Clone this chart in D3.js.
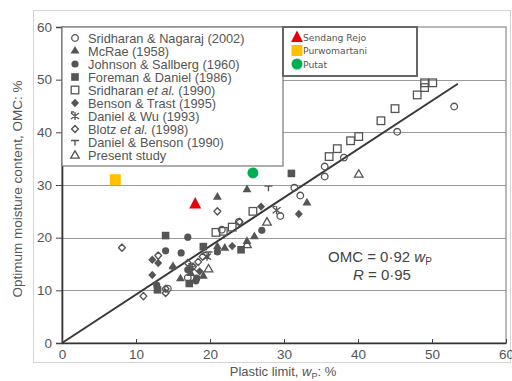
<!DOCTYPE html>
<html><head><meta charset="utf-8">
<script src="https://cdn.jsdelivr.net/npm/d3@7"></script>
<style>body{margin:0;background:#fff}svg{display:block}</style>
</head><body>
<svg id="c" width="512" height="381"></svg>
<script>
// ---- data ----
const xTicks = [0,10,20,30,40,50,60];
const yTicks = [0,10,20,30,40,50,60];
const fitSlope = 0.92;
const fitRange = [0, 53.5];
const sridharanNagaraj = [[53,44.9],[45.3,40.1],[38.1,35.2],[35.5,33.5],[35.5,31.6],[31.4,29.5],[32.2,28],[29.5,24.1],[23.9,23],[21.6,21.5],[17,12.4],[14.3,10.3]];
const mcRae = [[21,27.7],[25,29.1],[33.1,26.6],[21,18.3],[22,18],[26,20.2],[25,19.3],[15,14.5],[19.1,12.7],[16,12.2],[17.4,13.2]];
const johnsonSallberg = [[17,20.1],[16.1,17.1],[14,17.5],[21,17.3],[27,21.4],[17,13.9],[18.1,11.8],[12.8,11],[18.2,12.3]];
const foremanDaniel = [[14,20.4],[19.1,18.3],[31,32.2],[24.2,17.7],[12.9,10.1],[17.2,11.3]];
const sridharan1990 = [[49,49.4],[50.1,49.4],[49,48.5],[48,47.1],[45,44.5],[43.1,42.2],[40.1,39.2],[39,38.4],[37.2,36.9],[36.1,35.4],[25.8,25],[23,22],[21.8,21.2],[20.8,21]];
const bensonTrast = [[12.2,15.8],[13,15.2],[23,18.4],[32,24.5],[12.2,12.9],[15,14.4],[26.9,25.9],[18.6,13.6]];
const danielWu = [[29,25.2],[17.6,14.3],[19.6,16.4]];
const blotz = [[8.1,18.1],[21,25],[24,23],[13,16.6],[17,15.2],[18.4,15.4],[19,16.4],[14,10.3],[14,9.5],[11,8.9],[17.7,14.5]];
const danielBenson = [[27.9,29.5],[19.8,17]];
const presentStudy = [[40.1,32.1],[27.7,23],[25,18.7],[19.8,14.1]];
const sendangRejo = [[18,26.5]];
const purwomartani = [[7.2,31]];
const putat = [[25.8,32.3]];

const legend1 = [
  {name:["Sridharan & Nagaraj (2002)"], sym:"circleO"},
  {name:["McRae (1958)"], sym:"triF"},
  {name:["Johnson & Sallberg (1960)"], sym:"circleF"},
  {name:["Foreman & Daniel (1986)"], sym:"sqF"},
  {name:["Sridharan ","et al.",". (1990)"], sym:"sqO"},
  {name:["Benson & Trast (1995)"], sym:"diaF"},
  {name:["Daniel & Wu (1993)"], sym:"star"},
  {name:["Blotz ","et al.",". (1998)"], sym:"diaO"},
  {name:["Daniel & Benson (1990)"], sym:"tee"},
  {name:["Present study"], sym:"triO"}
];
const legend2 = [
  {name:"Sendang Rejo", sym:"bigTri", color:"#e8000b"},
  {name:"Purwomartani", sym:"bigSq", color:"#ffc000"},
  {name:"Putat", sym:"bigCirc", color:"#00b050"}
];

// ---- drawing ----
const svg = d3.select("#c");
const x = d3.scaleLinear().domain([0,60]).range([62,506]);
const y = d3.scaleLinear().domain([0,60]).range([343,27]);
const G = "#555";

// outer frame
svg.append("rect").attr("x",33.5).attr("y",10.5).attr("width",477).attr("height",352)
  .attr("fill","none").attr("stroke","#d4d4d4");

// gridlines
svg.append("g").selectAll("line").data(yTicks.filter(d=>d>0&&d<60)).join("line")
  .attr("x1",x(0)).attr("x2",x(60)).attr("y1",d=>Math.round(y(d))+0.5).attr("y2",d=>Math.round(y(d))+0.5)
  .attr("stroke","#9a9a9a").attr("stroke-width",1.2);
// frame
svg.append("rect").attr("x",x(0)).attr("y",y(60)).attr("width",x(60)-x(0)).attr("height",y(0)-y(60))
  .attr("fill","none").attr("stroke","#8a8a8a").attr("stroke-width",1.2);

// axes
const ya = svg.append("g").attr("transform",`translate(${x(0)},0)`)
  .call(d3.axisLeft(y).tickValues(yTicks).tickSize(6).tickPadding(4));
ya.select(".domain").attr("stroke","#333").attr("stroke-width",1.6);
ya.selectAll(".tick line").attr("stroke","#444");
ya.selectAll("text").attr("font-family","Liberation Sans, Arial, sans-serif").attr("font-size",13.5).attr("fill","#555");
const xa = svg.append("g").attr("transform",`translate(0,${y(0)})`)
  .call(d3.axisBottom(x).tickValues(xTicks).tickSizeInner(-4).tickSizeOuter(0).tickPadding(6));
xa.select(".domain").attr("stroke","#333").attr("stroke-width",1.6);
xa.selectAll(".tick line").attr("stroke","#444");
xa.selectAll("text").attr("font-family","Liberation Sans, Arial, sans-serif").attr("font-size",13.5).attr("fill","#555");

// axis titles
svg.append("text").attr("transform","translate(22,189) rotate(-90)").attr("text-anchor","middle")
  .attr("font-family","Liberation Sans, Arial, sans-serif").attr("font-size",13.5).attr("fill","#555")
  .text("Optimum moisture content, OMC: %");
const xt = svg.append("text").attr("x",283).attr("y",376).attr("text-anchor","middle")
  .attr("font-family","Liberation Sans, Arial, sans-serif").attr("font-size",13).attr("fill","#555");
xt.append("tspan").text("Plastic limit, ");
xt.append("tspan").attr("font-style","italic").text("w");
xt.append("tspan").attr("font-size",9).attr("dy",2.5).text("P");
xt.append("tspan").attr("dy",-2.5).text(": %");

// fit line
svg.append("line").attr("x1",x(fitRange[0])).attr("y1",y(fitSlope*fitRange[0]))
  .attr("x2",x(fitRange[1])).attr("y2",y(fitSlope*fitRange[1]))
  .attr("stroke","#3a3a3a").attr("stroke-width",2);

// marker factory
function marker(g, sym, color){
  const c = color || G;
  switch(sym){
    case "circleO": g.append("circle").attr("r",3.3).attr("fill","none").attr("stroke",c).attr("stroke-width",1.3); break;
    case "circleF": g.append("circle").attr("r",3.6).attr("fill",c); break;
    case "triF": g.append("path").attr("d",d3.symbol(d3.symbolTriangle,34)()).attr("fill",c); break;
    case "triO": g.append("path").attr("d","M0,-4.2L4.3,3.2L-4.3,3.2Z").attr("fill","none").attr("stroke",c).attr("stroke-width",1.3); break;
    case "sqF": g.append("rect").attr("x",-3.8).attr("y",-3.8).attr("width",7.6).attr("height",7.6).attr("fill",c); break;
    case "sqO": g.append("rect").attr("x",-3.8).attr("y",-3.8).attr("width",7.6).attr("height",7.6).attr("fill","none").attr("stroke",c).attr("stroke-width",1.3); break;
    case "diaF": g.append("path").attr("d","M0,-4.2L4,0L0,4.2L-4,0Z").attr("fill",c); break;
    case "diaO": g.append("path").attr("d","M0,-3.6L3.4,0L0,3.6L-3.4,0Z").attr("fill","none").attr("stroke",c).attr("stroke-width",1.4).attr("stroke-linejoin","round"); break;
    case "star": g.append("path").attr("d","M0,-4L0,4M-4,-3L4,3M-4,3L4,-3M-4,-4L-1,-4").attr("fill","none").attr("stroke",c).attr("stroke-width",1.3); break;
    case "tee": g.append("path").attr("d","M-4,-1.5L4,-1.5M0,-1.5L0,3.5").attr("fill","none").attr("stroke",c).attr("stroke-width",1.4); break;
    case "bigTri": g.append("path").attr("d","M0,-6.5L6,5L-6,5Z").attr("fill",c); break;
    case "bigSq": g.append("rect").attr("x",-5.5).attr("y",-5.5).attr("width",11).attr("height",11).attr("fill",c); break;
    case "bigCirc": g.append("circle").attr("r",5.5).attr("fill",c); break;
  }
}
const series = [
  [sridharanNagaraj,"circleO"],[mcRae,"triF"],[johnsonSallberg,"circleF"],[foremanDaniel,"sqF"],
  [sridharan1990,"sqO"],[bensonTrast,"diaF"],[danielWu,"star"],[blotz,"diaO"],[danielBenson,"tee"],
  [presentStudy,"triO"],[sendangRejo,"bigTri","#e8000b"],[purwomartani,"bigSq","#ffc000"],[putat,"bigCirc","#00b050"]
];
const pts = svg.append("g");
series.forEach(([data,sym,col])=>{
  data.forEach(d=>{
    const g = pts.append("g").attr("transform",`translate(${x(d[0])},${y(d[1])})`);
    marker(g, sym, col);
  });
});

// legend 1
svg.append("rect").attr("x",x(0)).attr("y",y(60)).attr("width",283-x(0)).attr("height",166-y(60))
  .attr("fill","#fff").attr("stroke","#777").attr("stroke-width",1.2);
legend1.forEach((e,i)=>{
  const yy = 38 + i*13;
  const g = svg.append("g").attr("transform",`translate(75,${yy})`);
  marker(g, e.sym);
  const t = svg.append("text").attr("x",88).attr("y",yy+4.5)
    .attr("font-family","Liberation Sans, Arial, sans-serif").attr("font-size",12.8).attr("fill","#555");
  if(e.name.length===1) t.text(e.name[0]);
  else {
    t.append("tspan").text(e.name[0]);
    t.append("tspan").attr("font-style","italic").text(e.name[1]);
    t.append("tspan").text(e.name[2].slice(1));
  }
});

// legend 2
svg.append("rect").attr("x",283).attr("y",y(60)).attr("width",134).attr("height",76-y(60))
  .attr("fill","#fff").attr("stroke","#666").attr("stroke-width",2);
legend2.forEach((e,i)=>{
  const yy = 37 + i*13.5;
  const g = svg.append("g").attr("transform",`translate(297,${yy})`);
  marker(g, e.sym, e.color);
  svg.append("text").attr("x",303).attr("y",yy+3.5)
    .attr("font-family","DejaVu Sans, Verdana, sans-serif").attr("font-size",9.2).attr("fill","#555").text(e.name);
});

// annotation
const a1 = svg.append("text").attr("x",328).attr("y",262)
  .attr("font-family","Liberation Sans, Arial, sans-serif").attr("font-size",15).attr("fill","#444");
a1.append("tspan").text("OMC = 0·92 ");
a1.append("tspan").attr("font-style","italic").text("w");
a1.append("tspan").attr("font-size",10).attr("dy",3).text("P");
const a2 = svg.append("text").attr("x",353).attr("y",280)
  .attr("font-family","Liberation Sans, Arial, sans-serif").attr("font-size",15).attr("fill","#444");
a2.append("tspan").attr("font-style","italic").text("R");
a2.append("tspan").text(" = 0·95");
</script>
</body></html>
